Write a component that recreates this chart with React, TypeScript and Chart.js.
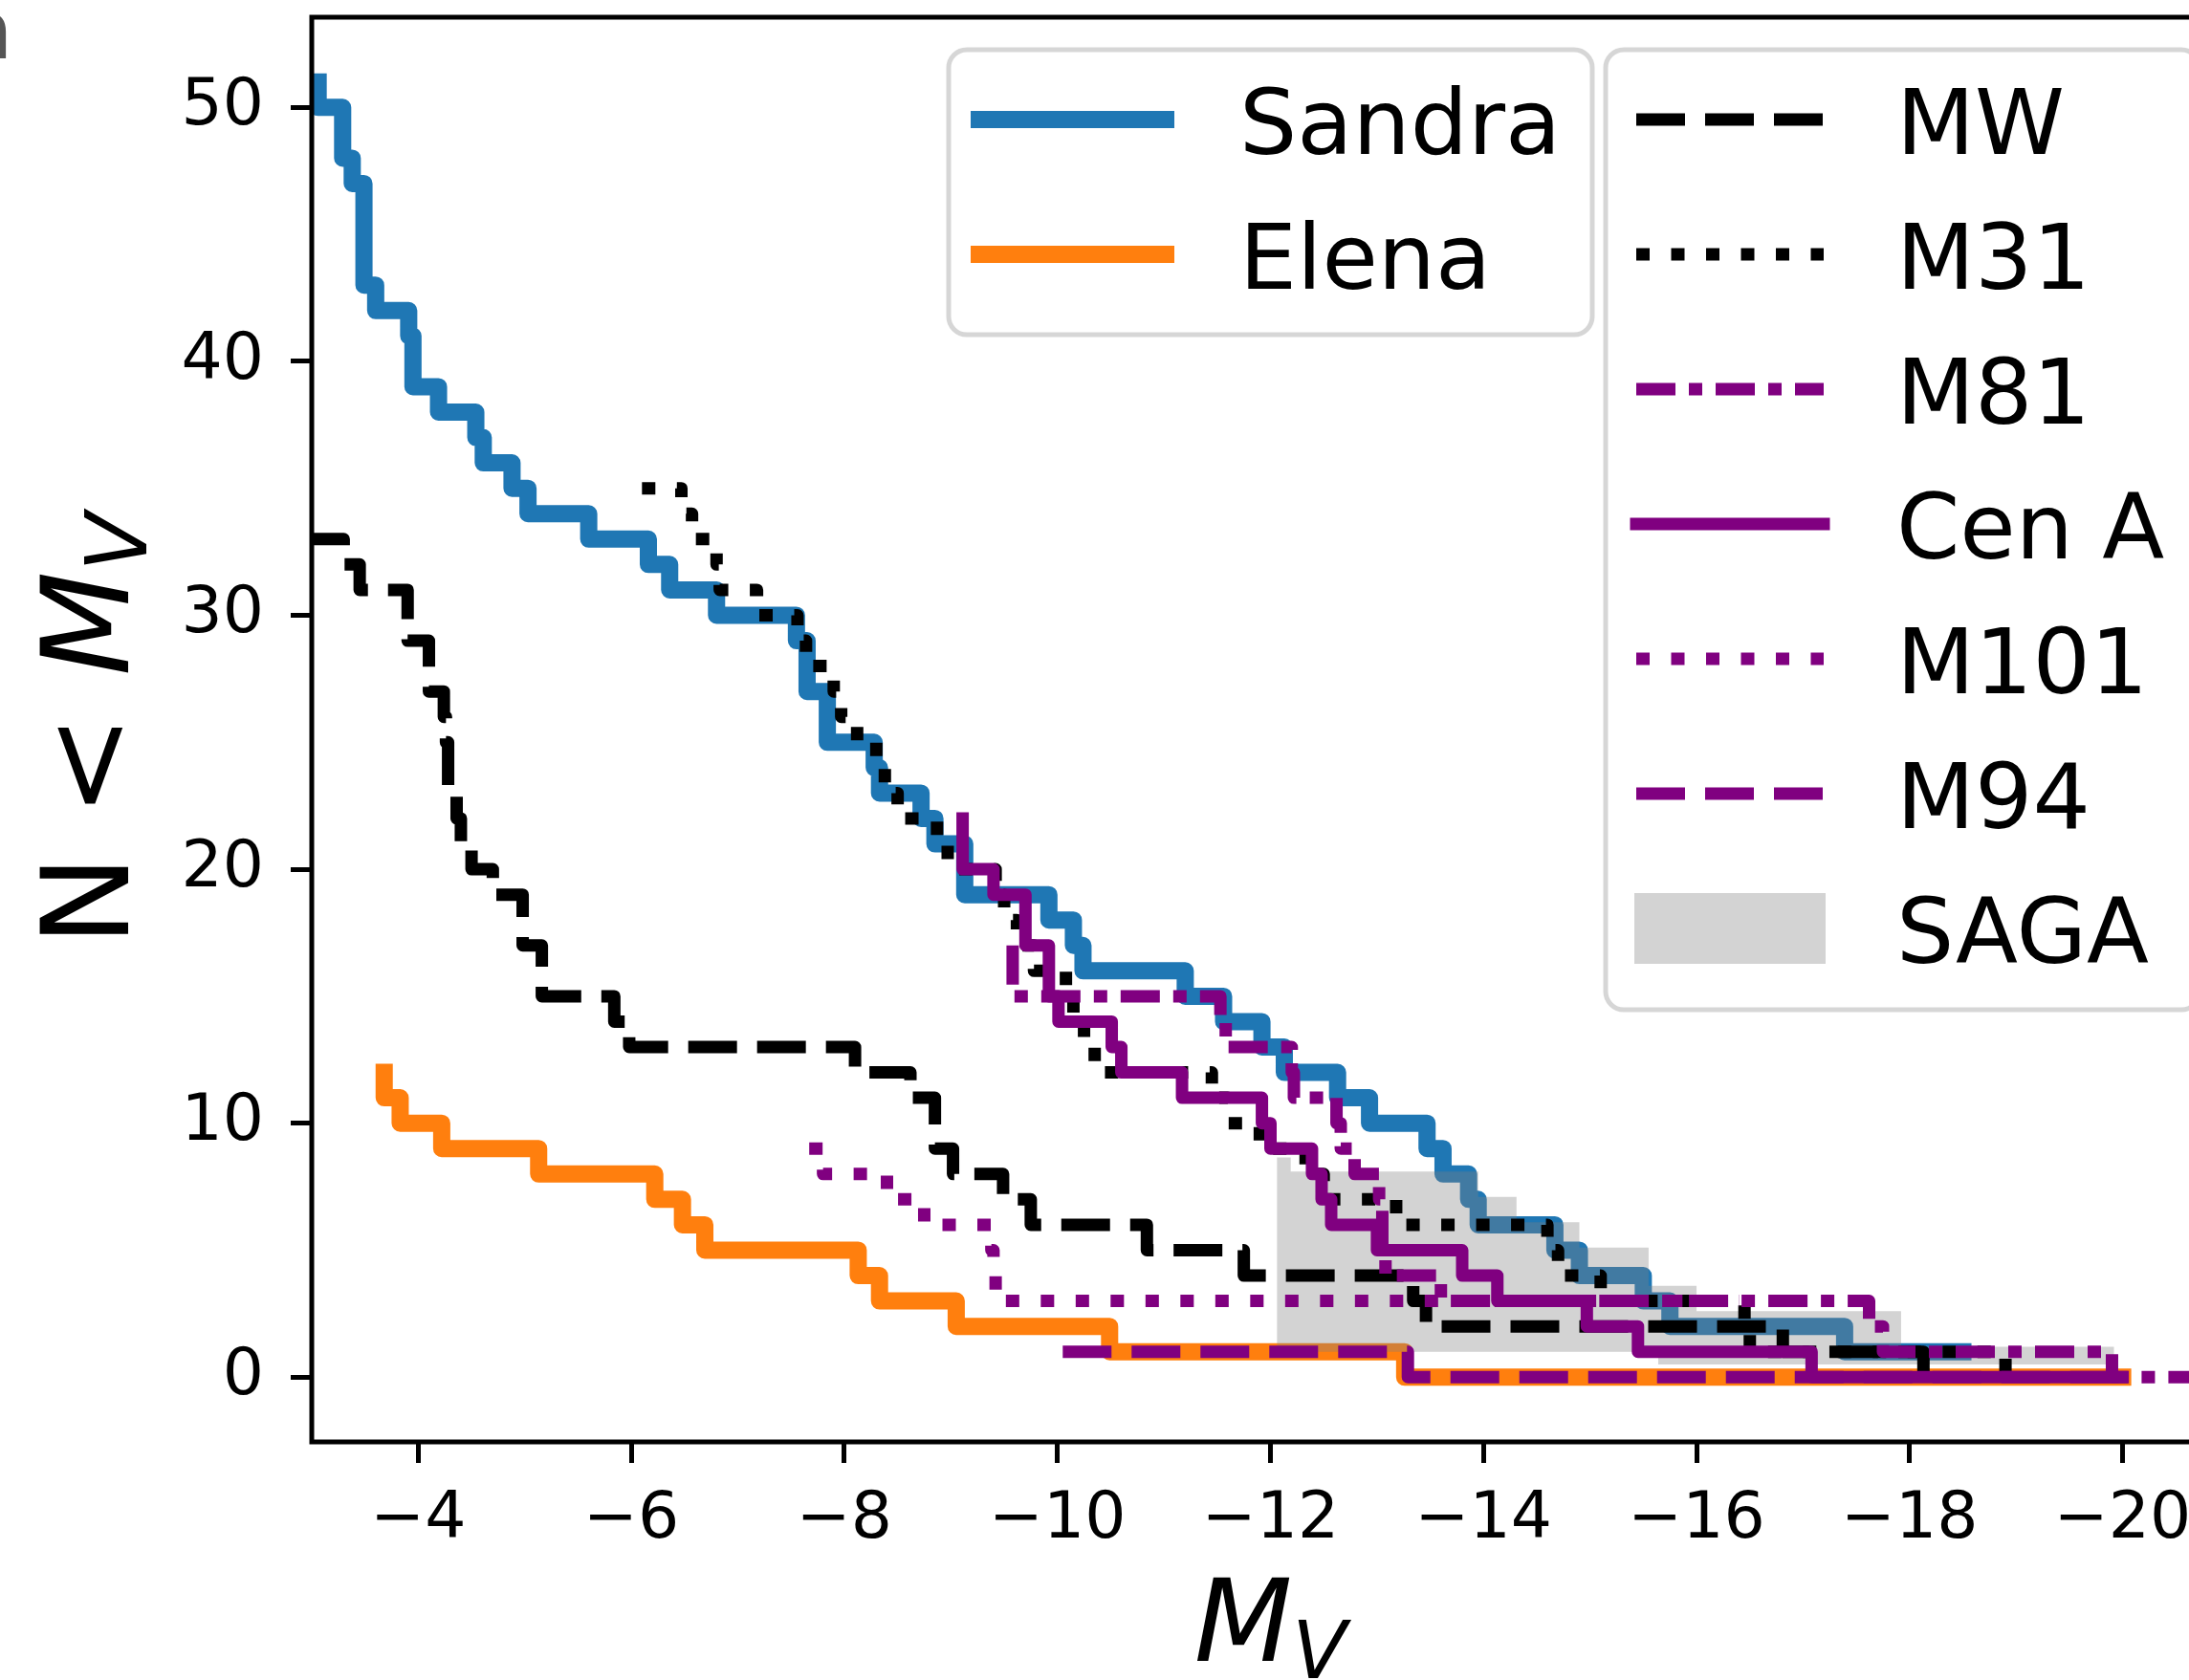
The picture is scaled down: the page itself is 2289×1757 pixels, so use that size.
import React, { useEffect, useRef } from 'react';
import { Chart, registerables } from 'chart.js';

Chart.register(...registerables);

// ---------- data ----------
const X_TICKS = [-4, -6, -8, -10, -12, -14, -16, -18, -20];
const Y_TICKS = [0, 10, 20, 30, 40, 50];
const X_MIN = -21;
const X_MAX = -3;
const Y_MIN = -2.55;
const Y_MAX = 53.55;

const SANDRA_MV = [-3.06, -3.06, -3.29, -3.38, -3.49, -3.60, -3.91, -3.95, -4.19, -4.54, -4.61, -4.88, -5.03, -5.60, -6.16, -6.36, -6.80, -7.55, -7.65, -7.84, -8.28, -8.33, -8.72, -8.85, -9.13, -9.92, -10.15, -10.24, -11.2, -11.56, -11.92, -12.13, -12.63, -12.93, -13.47, -13.62, -13.86, -13.95, -14.67, -14.9, -15.5, -15.75, -17.39, -18.5];
const SANDRA_N = [51, 50, 48, 47, 43, 42, 41, 39, 38, 37, 36, 35, 34, 33, 32, 31, 30, 29, 27, 25, 24, 23, 22, 21, 19, 18, 17, 16, 15, 14, 13, 12, 11, 10, 9, 8, 7, 6, 5, 4, 3, 2, 1, 1];

const ELENA_MV = [-3.68, -3.68, -3.83, -4.22, -5.13, -6.22, -6.48, -6.69, -8.13, -8.33, -9.05, -10.49, -13.26, -20.0];
const ELENA_N = [12, 11, 10, 9, 8, 7, 6, 5, 4, 3, 2, 1, 0, 0];

const MW_MV = [-2.9, -3.30, -3.45, -3.90, -4.10, -4.24, -4.26, -4.28, -4.36, -4.40, -4.50, -4.70, -4.98, -5.16, -5.84, -5.98, -8.10, -8.62, -8.85, -9.02, -9.49, -9.75, -10.84, -11.75, -13.34, -13.46, -16.81, -18.13];
const MW_N = [33, 32, 31, 29, 27, 26, 25, 23, 22, 21, 20, 19, 17, 15, 14, 13, 12, 11, 9, 8, 7, 6, 5, 4, 3, 2, 1, 0];

const M31_MV = [-6.10, -6.47, -6.57, -6.80, -6.83, -7.18, -7.56, -7.64, -7.90, -7.97, -8.12, -8.30, -8.38, -8.50, -8.87, -8.97, -9.42, -9.50, -9.62, -9.78, -10.08, -10.15, -10.25, -10.35, -11.45, -11.60, -11.90, -12.33, -12.50, -13.18, -14.60, -14.70, -15.10, -16.45, -16.50, -18.90];
const M31_N = [35, 34, 33, 32, 31, 30, 29, 28, 27, 26, 25, 24, 23, 22, 21, 20, 19, 18, 17, 16, 15, 14, 13, 12, 11, 10, 9, 8, 7, 6, 5, 4, 3, 2, 1, 0];

const M81_MV = [-9.58, -9.58, -11.53, -11.58, -12.20, -12.22, -12.62, -12.66, -12.79, -13.02, -13.05, -13.08, -13.60, -17.62, -17.75, -19.90, -21.5];
const M81_N = [17, 15, 14, 13, 12, 11, 10, 9, 8, 7, 5, 4, 3, 2, 1, 0, 0];

const CENA_MV = [-9.11, -9.11, -9.40, -9.70, -9.92, -10.01, -10.51, -10.60, -11.17, -11.92, -12.00, -12.39, -12.48, -12.57, -13.00, -13.80, -14.13, -14.97, -15.45, -17.08, -20.0];
const CENA_N = [22, 20, 19, 17, 15, 14, 13, 12, 11, 10, 9, 8, 7, 6, 5, 4, 3, 2, 1, 0, 0];

const M101_MV = [-7.67, -7.80, -8.40, -8.75, -9.38, -9.40, -9.42, -16.40];
const M101_N = [9, 8, 7, 6, 5, 4, 3, 3];

const M94_MV = [-10.05, -13.29, -20.0];
const M94_N = [1, 0, 0];

const SAGA_MV = [-12.06, -12.19, -13.95, -14.31, -14.9, -15.55, -15.64, -16.0, -17.92, -19.92];
const SAGA_HI = [8.65, 8.1, 7.1, 6.1, 5.1, 3.6, 3.6, 2.6, 1.2, 1.2];
const SAGA_LO = [1.0, 1.0, 1.0, 1.0, 1.0, 1.0, 0.5, 0.5, 0.5, 0.5];

// ---------- styles ----------
const PURPLE = '#800080';
const SAGA_FILL = 'rgba(128,128,128,0.35)';
const FONT = '"DejaVu Sans"';
const DASH = [51, 21];
const DOT = [14, 22.5];
const DASHDOT = [41, 14, 14, 14];

type Sty = { color: string; width: number; dash: number[]; cap: CanvasLineCap };
const ST: Record<string, Sty> = {
  Sandra: { color: '#1f77b4', width: 18, dash: [], cap: 'square' },
  Elena: { color: '#ff7f0e', width: 18, dash: [], cap: 'square' },
  MW: { color: '#000000', width: 13, dash: DASH, cap: 'butt' },
  M31: { color: '#000000', width: 13, dash: DOT, cap: 'butt' },
  M81: { color: PURPLE, width: 13, dash: DASHDOT, cap: 'butt' },
  'Cen A': { color: PURPLE, width: 13, dash: [], cap: 'square' },
  M101: { color: PURPLE, width: 13, dash: DOT, cap: 'butt' },
  M94: { color: PURPLE, width: 13, dash: DASH, cap: 'butt' },
};

const fmt = (v: number) => (v < 0 ? '\u2212' + Math.abs(v) : String(v));

function roundRect(ctx: CanvasRenderingContext2D, x: number, y: number, w: number, h: number, r: number) {
  ctx.beginPath();
  ctx.moveTo(x + r, y);
  ctx.lineTo(x + w - r, y);
  ctx.arcTo(x + w, y, x + w, y + r, r);
  ctx.lineTo(x + w, y + h - r);
  ctx.arcTo(x + w, y + h, x + w - r, y + h, r);
  ctx.lineTo(x + r, y + h);
  ctx.arcTo(x, y + h, x, y + h - r, r);
  ctx.lineTo(x, y + r);
  ctx.arcTo(x, y, x + r, y, r);
  ctx.closePath();
}

function legendFrame(ctx: CanvasRenderingContext2D, x: number, y: number, w: number, h: number) {
  roundRect(ctx, x, y, w, h, 19);
  ctx.fillStyle = 'rgba(255,255,255,0.8)';
  ctx.fill();
  ctx.lineWidth = 5;
  ctx.setLineDash([]);
  ctx.strokeStyle = 'rgba(204,204,204,0.8)';
  ctx.stroke();
}

function legendLine(ctx: CanvasRenderingContext2D, x1: number, x2: number, y: number, s: Sty) {
  ctx.beginPath();
  ctx.setLineDash(s.dash);
  ctx.lineDashOffset = 0;
  ctx.lineCap = s.cap;
  ctx.lineJoin = 'round';
  ctx.strokeStyle = s.color;
  ctx.lineWidth = s.width;
  ctx.moveTo(x1, y);
  ctx.lineTo(x2, y);
  ctx.stroke();
  ctx.setLineDash([]);
}

function legendText(ctx: CanvasRenderingContext2D, t: string, x: number, y: number) {
  ctx.font = `95px ${FONT}`;
  ctx.fillStyle = '#000';
  ctx.textAlign = 'left';
  ctx.textBaseline = 'alphabetic';
  ctx.fillText(t, x, y);
}

const overlay = {
  id: 'overlay',
  afterDatasetsDraw(chart: any) {
    const ctx: CanvasRenderingContext2D = chart.ctx;
    const a = chart.chartArea;
    ctx.save();
    // spines
    ctx.strokeStyle = '#000';
    ctx.lineWidth = 5;
    ctx.setLineDash([]);
    ctx.lineJoin = 'miter';
    ctx.strokeRect(a.left, a.top, a.right - a.left, a.bottom - a.top);

    const ROW0 = 125;
    const DY = 141;
    const BASE = 35.5;
    // legend 1
    legendFrame(ctx, 992, 52, 673, 298);
    const g1 = ['Sandra', 'Elena'];
    g1.forEach((name, i) => {
      const y = ROW0 + DY * i;
      legendLine(ctx, 1024, 1219, y, ST[name]);
      legendText(ctx, name, 1296, y + BASE);
    });
    // legend 2
    legendFrame(ctx, 1679, 52, 621, 1004);
    const g2 = ['MW', 'M31', 'M81', 'Cen A', 'M101', 'M94'];
    g2.forEach((name, i) => {
      const y = ROW0 + DY * i;
      legendLine(ctx, 1711, 1907, y, ST[name]);
      legendText(ctx, name, 1983, y + BASE);
    });
    const ys = ROW0 + DY * 6;
    ctx.fillStyle = SAGA_FILL;
    ctx.fillRect(1709, ys - 37, 200, 74);
    legendText(ctx, 'SAGA', 1983, ys + BASE);
    ctx.restore();
  },
  afterDraw(chart: any) {
    const ctx: CanvasRenderingContext2D = chart.ctx;
    const a = chart.chartArea;
    ctx.save();
    ctx.fillStyle = '#000';
    ctx.textBaseline = 'alphabetic';
    ctx.textAlign = 'left';
    // x label: M_V
    {
      const F = 119;
      ctx.font = `italic ${F}px ${FONT}`;
      const wM = ctx.measureText('M').width;
      ctx.font = `italic ${F * 0.7}px ${FONT}`;
      const wV = ctx.measureText('V').width;
      const cx = (a.left + a.right) / 2;
      let x = cx - (wM + wV) / 2;
      const base = 1737;
      ctx.font = `italic ${F}px ${FONT}`;
      ctx.fillText('M', x, base);
      x += wM;
      ctx.font = `italic ${F * 0.7}px ${FONT}`;
      ctx.fillText('V', x, base + F * 0.15);
    }
    // y label: N < M_V
    {
      const F = 127;
      ctx.translate(134, (a.top + a.bottom) / 2);
      ctx.rotate(-Math.PI / 2);
      ctx.font = `${F}px ${FONT}`;
      const w1 = ctx.measureText('N < ').width;
      ctx.font = `italic ${F}px ${FONT}`;
      const w2 = ctx.measureText('M').width;
      ctx.font = `italic ${F * 0.7}px ${FONT}`;
      const w3 = ctx.measureText('V').width;
      let x = -(w1 + w2 + w3) / 2;
      ctx.font = `${F}px ${FONT}`;
      ctx.fillText('N < ', x, 0);
      x += w1;
      ctx.font = `italic ${F}px ${FONT}`;
      ctx.fillText('M', x, 0);
      x += w2;
      ctx.font = `italic ${F * 0.7}px ${FONT}`;
      ctx.fillText('V', x, F * 0.15);
    }
    ctx.restore();
  },
};

export default function App() {
  const ref = useRef<HTMLCanvasElement>(null);

  useEffect(() => {
    const canvas = ref.current;
    if (!canvas) return;
    const pts = (mv: number[], n: number[]) => mv.map((x, i) => ({ x, y: n[i] }));
    const line = (label: string, mv: number[], n: number[], order: number) => {
      const s = ST[label];
      return {
        label,
        data: pts(mv, n),
        borderColor: s.color,
        backgroundColor: s.color,
        borderWidth: s.width,
        borderDash: s.dash,
        borderCapStyle: s.cap,
        borderJoinStyle: 'round',
        stepped: true,
        pointRadius: 0,
        pointHoverRadius: 0,
        fill: false,
        tension: 0,
        clip: 0,
        order,
      };
    };

    const datasets: any[] = [
      line('Sandra', SANDRA_MV, SANDRA_N, 99),
      line('Elena', ELENA_MV, ELENA_N, 98),
      {
        label: 'SAGA',
        data: pts(SAGA_MV, SAGA_HI),
        borderColor: 'rgba(0,0,0,0)',
        borderWidth: 0,
        backgroundColor: SAGA_FILL,
        fill: '+1',
        stepped: true,
        pointRadius: 0,
        tension: 0,
        clip: 0,
        order: 97,
      },
      {
        label: 'SAGA_lo',
        data: pts(SAGA_MV, SAGA_LO),
        borderColor: 'rgba(0,0,0,0)',
        borderWidth: 0,
        backgroundColor: 'rgba(0,0,0,0)',
        fill: false,
        stepped: true,
        pointRadius: 0,
        tension: 0,
        clip: 0,
        order: 97,
      },
      line('MW', MW_MV, MW_N, 96),
      line('M31', M31_MV, M31_N, 95),
      line('M81', M81_MV, M81_N, 94),
      line('Cen A', CENA_MV, CENA_N, 93),
      line('M101', M101_MV, M101_N, 92),
      line('M94', M94_MV, M94_N, 91),
    ];

    const tickFont = { family: 'DejaVu Sans', size: 68 };
    const chart = new Chart(canvas, {
      type: 'line',
      data: { datasets },
      options: {
        responsive: false,
        maintainAspectRatio: false,
        animation: false,
        devicePixelRatio: 1,
        events: [],
        layout: { padding: { left: 0, top: 18, right: 69, bottom: 0 } },
        plugins: {
          legend: { display: false },
          tooltip: { enabled: false },
          title: { display: false },
        },
        scales: {
          x: {
            type: 'linear',
            position: 'bottom',
            min: X_MIN,
            max: X_MAX,
            reverse: true,
            afterBuildTicks: (s: any) => {
              s.ticks = X_TICKS.map((v) => ({ value: v }));
            },
            afterFit: (s: any) => {
              s.height = 249;
              s.paddingLeft = 0;
              s.paddingRight = 0;
              s.paddingTop = 0;
              s.paddingBottom = 0;
            },
            border: { display: false },
            grid: {
              display: true,
              drawOnChartArea: false,
              drawTicks: true,
              tickLength: 22,
              tickWidth: 5,
              tickColor: '#000',
              color: 'rgba(0,0,0,0)',
            },
            ticks: {
              autoSkip: false,
              maxRotation: 0,
              minRotation: 0,
              padding: 20,
              color: '#000',
              font: tickFont,
              callback: (v: any) => fmt(Number(v)),
            },
          },
          y: {
            type: 'linear',
            position: 'left',
            min: Y_MIN,
            max: Y_MAX,
            afterBuildTicks: (s: any) => {
              s.ticks = Y_TICKS.map((v) => ({ value: v }));
            },
            afterFit: (s: any) => {
              s.width = 326;
              s.paddingLeft = 0;
              s.paddingRight = 0;
              s.paddingTop = 0;
              s.paddingBottom = 0;
            },
            border: { display: false },
            grid: {
              display: true,
              drawOnChartArea: false,
              drawTicks: true,
              tickLength: 22,
              tickWidth: 5,
              tickColor: '#000',
              color: 'rgba(0,0,0,0)',
            },
            ticks: {
              autoSkip: false,
              padding: 28,
              color: '#000',
              font: tickFont,
              callback: (v: any) => fmt(Number(v)),
            },
          },
        },
      } as any,
      plugins: [overlay as any],
    });
    return () => chart.destroy();
  }, []);

  return (
    <div
      style={{
        position: 'fixed',
        left: 0,
        top: 0,
        width: 2289,
        height: 1757,
        overflow: 'hidden',
        background: '#ffffff',
      }}
    >
      <span
        style={{
          position: 'absolute',
          left: -40,
          top: -10,
          fontFamily: 'DejaVu Sans',
          fontSize: 84,
          lineHeight: '84px',
          color: '#555555',
        }}
      >
        n
      </span>
      <canvas
        ref={ref}
        width={2400}
        height={1757}
        style={{ position: 'absolute', left: 0, top: 0, width: 2400, height: 1757 }}
      />
    </div>
  );
}
